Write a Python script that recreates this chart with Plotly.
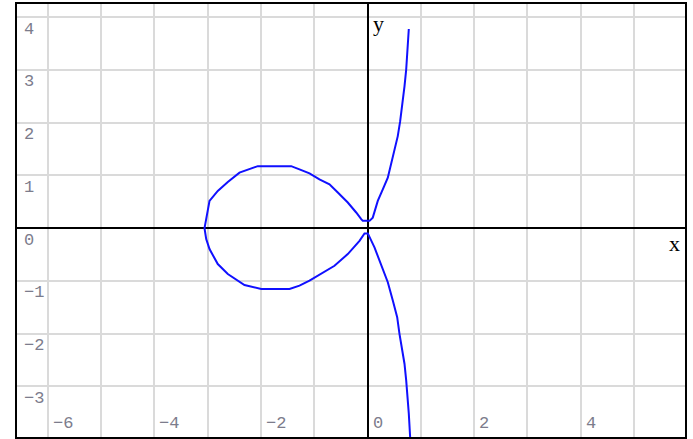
import plotly.graph_objects as go

# Curve traced as one path: upper branch (top -> origin), upper half of loop
# (origin -> left vertex), lower half of loop (left vertex -> origin), lower branch.
branch_up_x = [0.775, 0.756, 0.726, 0.694, 0.662, 0.613, 0.568, 0.475, 0.381, 0.287, 0.193, 0.099, 0.038, -0.088]
branch_up_y = [3.775, 3.384, 3.006, 2.690, 2.376, 2.028, 1.745, 1.367, 0.958, 0.737, 0.516, 0.200, 0.138, 0.138]

loop_up_x = [-0.118, -0.212, -0.370, -0.557, -0.713, -0.901, -1.088, -1.276, -1.432, -2.058, -2.246, -2.402, -2.621, -2.809, -2.964, -3.058]
loop_up_y = [0.170, 0.297, 0.486, 0.675, 0.832, 0.926, 1.040, 1.115, 1.175, 1.175, 1.102, 1.053, 0.875, 0.705, 0.516, 0.000]

loop_dn_x = [-3.026, -2.964, -2.809, -2.621, -2.308, -1.994, -1.463, -1.276, -1.088, -0.869, -0.619, -0.370, -0.150, -0.056]
loop_dn_y = [-0.208, -0.397, -0.681, -0.870, -1.078, -1.153, -1.153, -1.091, -0.996, -0.870, -0.713, -0.491, -0.240, -0.100]

branch_dn_x = [0.006, 0.131, 0.225, 0.381, 0.475, 0.557, 0.600, 0.651, 0.694, 0.726, 0.756, 0.775, 0.800]
branch_dn_y = [-0.100, -0.365, -0.618, -1.026, -1.374, -1.688, -2.004, -2.320, -2.571, -2.887, -3.200, -3.516, -3.960]

x_tick_vals = [-6, -4, -2, 0, 2, 4]
y_tick_vals = [4, 3, 2, 1, 0, -1, -2, -3]

X_RANGE = [-6.576, 5.957]
Y_RANGE = [-3.96, 4.25]

curve_x = branch_up_x + loop_up_x + loop_dn_x + branch_dn_x
curve_y = branch_up_y + loop_up_y + loop_dn_y + branch_dn_y

fig = go.Figure()
fig.add_trace(go.Scatter(
    x=curve_x, y=curve_y, mode="lines",
    line=dict(color="#1010ff", width=2),
    hoverinfo="skip", showlegend=False,
))

tick_font = dict(family="Liberation Mono, Courier New, monospace", size=17, color="#7c7c8c")
label_font = dict(family="Liberation Serif, Times New Roman, serif", size=22, color="#000000")

annotations = []
for v in y_tick_vals:
    annotations.append(dict(
        x=0, xref="paper", y=v, yref="y", text=str(v).replace("-", "\u2212"),
        showarrow=False, xanchor="left", yanchor="middle",
        xshift=5, yshift=-12, font=tick_font,
    ))
for v in x_tick_vals:
    annotations.append(dict(
        x=v, xref="x", y=0, yref="paper", text=str(v).replace("-", "\u2212"),
        showarrow=False, xanchor="left", yanchor="middle",
        xshift=3, yshift=14, font=tick_font,
    ))
annotations.append(dict(x=1, xref="paper", y=0, yref="y", text="x", showarrow=False,
                        xanchor="right", yanchor="middle", xshift=-3, yshift=-15, font=label_font))
annotations.append(dict(x=0, xref="x", y=1, yref="paper", text="y", showarrow=False,
                        xanchor="left", yanchor="top", xshift=3, yshift=-5, font=label_font))

axis_common = dict(
    showgrid=True, gridcolor="#dadada", gridwidth=2, dtick=1, tick0=0,
    zeroline=True, zerolinecolor="#000000", zerolinewidth=2,
    showline=True, linecolor="#000000", linewidth=2, mirror=True,
    showticklabels=False, ticks="", fixedrange=True,
)

fig.update_layout(
    width=693, height=439,
    margin=dict(l=17, r=8, t=4, b=2),
    paper_bgcolor="white", plot_bgcolor="white",
    xaxis=dict(range=X_RANGE, **axis_common),
    yaxis=dict(range=Y_RANGE, **axis_common),
    annotations=annotations,
    showlegend=False,
)

fig.write_html("out.html", config={"displayModeBar": False})
